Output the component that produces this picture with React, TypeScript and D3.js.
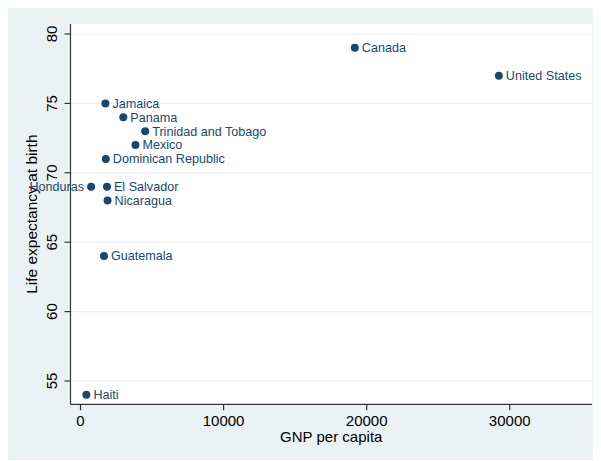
import React, { useEffect, useRef } from "react";
import * as d3 from "d3";

const countries = [
  "Canada",
  "United States",
  "Jamaica",
  "Panama",
  "Trinidad and Tobago",
  "Mexico",
  "Dominican Republic",
  "Honduras",
  "El Salvador",
  "Nicaragua",
  "Guatemala",
  "Haiti",
];
const gnppc = [19170, 29240, 1740, 2990, 4520, 3840, 1770, 740, 1850, 1890, 1640, 410];
const lexp = [79, 77, 75, 74, 73, 72, 71, 69, 69, 68, 64, 54];
// Honduras is labelled on the left of its marker
const labelLeft = ["Honduras"];

const xTicks = [0, 10000, 20000, 30000];
const yTicks = [55, 60, 65, 70, 75, 80];

const App: React.FC = () => {
  const ref = useRef<SVGSVGElement | null>(null);
  const width = 593;
  const height = 452;

  useEffect(() => {
    const margin = { top: 16, right: 9, bottom: 55.7, left: 62.5 };
    const w = width - margin.left - margin.right;
    const h = height - margin.top - margin.bottom;
    const font = "'Liberation Sans', Arial, Helvetica, sans-serif";
    const navy = "#1a476f";

    d3.select(ref.current).selectAll("*").remove();

    const root = d3.select(ref.current).attr("width", width).attr("height", height);

    // Outer graph region background
    root.append("rect").attr("width", width).attr("height", height).attr("fill", "#eaf2f3");

    const svg = root.append("g").attr("transform", `translate(${margin.left},${margin.top})`);

    // Plot region
    svg.append("rect").attr("width", w).attr("height", h).attr("fill", "#ffffff");

    const x = d3.scaleLinear().domain([-700, 35750]).range([0, w]);
    const y = d3.scaleLinear().domain([53.32, 80.72]).range([h, 0]);

    // Gridlines
    svg
      .selectAll(".grid")
      .data(yTicks)
      .enter()
      .append("line")
      .attr("x1", 0)
      .attr("x2", w)
      .attr("y1", (d) => y(d))
      .attr("y2", (d) => y(d))
      .attr("stroke", "#eaf2f3")
      .attr("stroke-width", 1.2);

    // Y axis
    const yAxis = svg.append("g");
    yAxis
      .append("line")
      .attr("x1", 0)
      .attr("x2", 0)
      .attr("y1", 0)
      .attr("y2", h)
      .attr("stroke", "#333")
      .attr("stroke-width", 1.2);
    yTicks.forEach((t) => {
      yAxis
        .append("line")
        .attr("x1", -6)
        .attr("x2", 0)
        .attr("y1", y(t))
        .attr("y2", y(t))
        .attr("stroke", "#333")
        .attr("stroke-width", 1.2);
      yAxis
        .append("text")
        .attr("transform", `translate(-13.5,${y(t)}) rotate(-90)`)
        .attr("text-anchor", "middle")
        .style("font-family", font)
        .style("font-size", "15px")
        .attr("fill", "#000")
        .text(t);
    });

    // X axis
    const xAxis = svg.append("g").attr("transform", `translate(0,${h})`);
    xAxis
      .append("line")
      .attr("x1", 0)
      .attr("x2", w)
      .attr("y1", 0)
      .attr("y2", 0)
      .attr("stroke", "#333")
      .attr("stroke-width", 1.2);
    xTicks.forEach((t) => {
      xAxis
        .append("line")
        .attr("x1", x(t))
        .attr("x2", x(t))
        .attr("y1", 0)
        .attr("y2", 6)
        .attr("stroke", "#333")
        .attr("stroke-width", 1.2);
      xAxis
        .append("text")
        .attr("x", x(t))
        .attr("y", 22)
        .attr("text-anchor", "middle")
        .style("font-family", font)
        .style("font-size", "15px")
        .attr("fill", "#000")
        .text(t);
    });

    // Axis titles
    svg
      .append("text")
      .attr("x", w / 2)
      .attr("y", h + 37.5)
      .attr("text-anchor", "middle")
      .style("font-family", font)
      .style("font-size", "15px")
      .attr("fill", "#000")
      .text("GNP per capita");

    svg
      .append("text")
      .attr("transform", `translate(-33.5,${h / 2}) rotate(-90)`)
      .attr("text-anchor", "middle")
      .style("font-family", font)
      .style("font-size", "15.5px")
      .attr("fill", "#000")
      .text("Life expectancy at birth");

    // Points
    const data = countries.map((c, i) => ({ name: c, gnp: gnppc[i], le: lexp[i] }));

    svg
      .selectAll(".pt")
      .data(data)
      .enter()
      .append("circle")
      .attr("cx", (d) => x(d.gnp))
      .attr("cy", (d) => y(d.le))
      .attr("r", 4)
      .attr("fill", navy);

    svg
      .selectAll(".lbl")
      .data(data)
      .enter()
      .append("text")
      .attr("x", (d) => (labelLeft.includes(d.name) ? x(d.gnp) - 7 : x(d.gnp) + 7))
      .attr("y", (d) => y(d.le))
      .attr("dy", "0.35em")
      .attr("text-anchor", (d) => (labelLeft.includes(d.name) ? "end" : "start"))
      .style("font-family", font)
      .style("font-size", "12.6px")
      .attr("fill", navy)
      .text((d) => d.name);
  }, []);

  return <svg ref={ref} style={{ display: "block" }}></svg>;
};

export default App;
